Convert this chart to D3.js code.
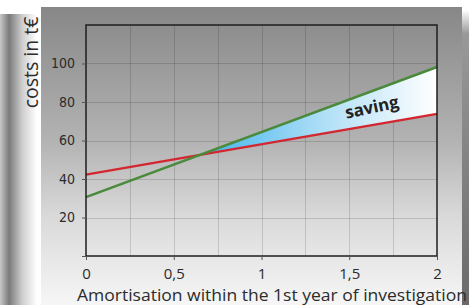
<!DOCTYPE html>
<html>
<head>
<meta charset="utf-8">
<script src="https://cdn.jsdelivr.net/npm/d3@7"></script>
<style>
  html, body { margin: 0; padding: 0; background: #fff; }
  svg { display: block; }
</style>
</head>
<body>
<svg width="469" height="305"></svg>
<script>
"use strict";

// data
const years = [0, 2];
const costRed = [42.3, 73.8];
const costGreen = [30.6, 98.2];
const yTicks = [20, 40, 60, 80, 100];
const xTicks = [0, 0.5, 1, 1.5, 2];
const xTickLabels = ["0", "0,5", "1", "1,5", "2"];
const xGrid = [0.25, 0.5, 0.75, 1, 1.25, 1.5, 1.75];

const svg = d3.select("svg");
const defs = svg.append("defs");

///////////////////////////////
// background panel + shadows
///////////////////////////////
const bg = defs.append("linearGradient").attr("id", "bg")
  .attr("x1", 0).attr("y1", 0).attr("x2", 0).attr("y2", 1);
bg.append("stop").attr("offset", 0).attr("stop-color", "#878787");
bg.append("stop").attr("offset", 0.45).attr("stop-color", "#b3b3b3");
bg.append("stop").attr("offset", 0.7).attr("stop-color", "#d9d9d9");
bg.append("stop").attr("offset", 1).attr("stop-color", "#f6f6f6");

const lsh = defs.append("linearGradient").attr("id", "lsh")
  .attr("x1", 0).attr("y1", 0).attr("x2", 1).attr("y2", 0);
lsh.append("stop").attr("offset", 0).attr("stop-color", "#c8c8c8");
lsh.append("stop").attr("offset", 0.22).attr("stop-color", "#7a7a7a");
lsh.append("stop").attr("offset", 0.55).attr("stop-color", "#cfcfcf");
lsh.append("stop").attr("offset", 0.9).attr("stop-color", "#ffffff");

const rsh = defs.append("linearGradient").attr("id", "rsh")
  .attr("x1", 0).attr("y1", 0).attr("x2", 0).attr("y2", 1);
rsh.append("stop").attr("offset", 0).attr("stop-color", "#ffffff");
rsh.append("stop").attr("offset", 0.08).attr("stop-color", "#999");
rsh.append("stop").attr("offset", 1).attr("stop-color", "#6a6a6a");

svg.append("rect").attr("x", 0).attr("y", 14).attr("width", 41).attr("height", 291)
  .attr("fill", "url(#lsh)");
svg.append("rect").attr("x", 462).attr("y", 10).attr("width", 7).attr("height", 295)
  .attr("fill", "url(#rsh)");
svg.append("rect").attr("x", 41).attr("y", 7).attr("width", 421).attr("height", 298)
  .attr("fill", "url(#bg)");

///////////////////////////////
// scales
///////////////////////////////
const x = d3.scaleLinear().domain([0, 2]).range([86, 437]);
const y = d3.scaleLinear().domain([0, 120]).range([256, 25]);

// grid
const grid = svg.append("g").attr("stroke", "rgba(0,0,0,0.14)").attr("stroke-width", 1);
grid.selectAll("line.v").data(xGrid).enter().append("line")
  .attr("x1", d => Math.round(x(d)) + 0.5).attr("x2", d => Math.round(x(d)) + 0.5)
  .attr("y1", y(120)).attr("y2", y(0));
grid.selectAll("line.h").data(yTicks).enter().append("line")
  .attr("y1", d => Math.round(y(d)) + 0.5).attr("y2", d => Math.round(y(d)) + 0.5)
  .attr("x1", x(0)).attr("x2", x(2));

///////////////////////////////
// saving area between the lines
///////////////////////////////
const fill = defs.append("linearGradient").attr("id", "save")
  .attr("gradientUnits", "userSpaceOnUse");
const slopeR = (costRed[1] - costRed[0]) / (years[1] - years[0]);
const slopeG = (costGreen[1] - costGreen[0]) / (years[1] - years[0]);
const xCross = (costRed[0] - costGreen[0]) / (slopeG - slopeR);
fill.attr("x1", x(xCross)).attr("x2", x(2)).attr("y1", 0).attr("y2", 0);
fill.append("stop").attr("offset", 0).attr("stop-color", "#3fb3ec");
fill.append("stop").attr("offset", 0.55).attr("stop-color", "#b5e1f7");
fill.append("stop").attr("offset", 1).attr("stop-color", "#ffffff");

const red = xv => costRed[0] + slopeR * xv;
const green = xv => costGreen[0] + slopeG * xv;
const saveX = [xCross, 2];
svg.append("path")
  .datum(saveX)
  .attr("fill", "url(#save)")
  .attr("d", d3.area().x(d => x(d)).y0(d => y(red(d))).y1(d => y(green(d))));

///////////////////////////////
// lines
///////////////////////////////
const line = d3.line().x(d => x(d[0])).y(d => y(d[1]));
svg.append("path").datum(years.map((v, i) => [v, costRed[i]]))
  .attr("fill", "none").attr("stroke", "#d3262e").attr("stroke-width", 2.4).attr("d", line);
svg.append("path").datum(years.map((v, i) => [v, costGreen[i]]))
  .attr("fill", "none").attr("stroke", "#4b8a3c").attr("stroke-width", 2.6).attr("d", line);

// frame
svg.append("rect").attr("x", x(0)).attr("y", y(120))
  .attr("width", x(2) - x(0)).attr("height", y(0) - y(120))
  .attr("fill", "none").attr("stroke", "#1e1e1e").attr("stroke-width", 1.5);

///////////////////////////////
// axes
///////////////////////////////
const yAxis = d3.axisLeft(y).tickValues([0].concat(yTicks)).tickSize(4)
  .tickFormat(d => d === 0 ? "" : d);
svg.append("g").attr("transform", `translate(${x(0)},0)`).call(yAxis)
  .call(g => g.select(".domain").remove())
  .call(g => g.selectAll("line").attr("stroke", "#555"))
  .call(g => g.selectAll("text").attr("fill", "#2b2b2b")
    .attr("x", -11)
    .style("font-family", "'Liberation Sans Narrow', 'DejaVu Sans Condensed', sans-serif")
    .style("font-size", "14px"));

const xAxis = d3.axisBottom(x).tickValues(xTicks).tickSize(4)
  .tickFormat((d, i) => xTickLabels[i]);
svg.append("g").attr("transform", `translate(0,${y(0)})`).call(xAxis)
  .call(g => g.select(".domain").remove())
  .call(g => g.selectAll("line").attr("stroke", "#555"))
  .call(g => g.selectAll("text").attr("fill", "#2b2b2b")
    .attr("y", 23).attr("dy", null)
    .style("font-family", "'Open Sans', sans-serif")
    .style("font-size", "15px"));

// titles
svg.append("text")
  .attr("transform", "translate(37.5,62.5) rotate(-90)")
  .attr("text-anchor", "middle")
  .attr("fill", "#2b2b2b")
  .style("font-family", "'Open Sans', sans-serif")
  .style("font-size", "19.5px")
  .text("costs in t€");

svg.append("text")
  .attr("x", 77).attr("y", 301)
  .attr("textLength", 390).attr("lengthAdjust", "spacingAndGlyphs")
  .attr("fill", "#2b2b2b")
  .style("font-family", "'Open Sans', sans-serif")
  .style("font-size", "16.5px")
  .text("Amortisation within the 1st year of investigation");

svg.append("text")
  .attr("transform", "translate(373,113) rotate(-12)")
  .attr("text-anchor", "middle")
  .attr("fill", "#222")
  .style("font-family", "'Open Sans', sans-serif")
  .style("font-weight", "bold")
  .style("font-size", "17px")
  .text("saving");
</script>
</body>
</html>
